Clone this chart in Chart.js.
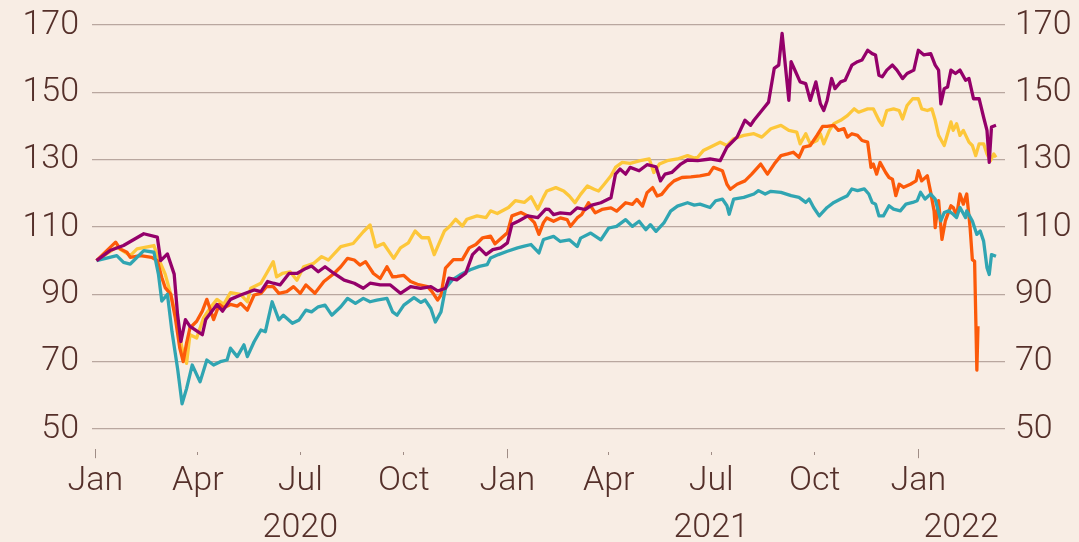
<!DOCTYPE html>
<html>
<head>
<meta charset="utf-8">
<script src="https://cdn.jsdelivr.net/npm/chart.js@4.4.1/dist/chart.umd.min.js"></script>
<style>
  html, body { margin: 0; padding: 0; background: #f8ede4; }
  #wrap { width: 1079px; height: 542px; position: relative; }
</style>
</head>
<body>
<div id="wrap"><canvas id="chart"></canvas></div>
<script>
// x values are days since 1 Jan 2020
const quarterDays = [0, 91, 182, 274, 366, 456, 547, 639, 731];
const quarterLabels = ['Jan', 'Apr', 'Jul', 'Oct', 'Jan', 'Apr', 'Jul', 'Oct', 'Jan'];
const yearDays = [182, 547, 769];
const yearLabels = ['2020', '2021', '2022'];
const gridValues = [50, 60, 70, 80, 90, 100, 110, 120, 130, 140, 150, 160, 170];
const yTickLabels = [50, 70, 90, 110, 130, 150, 170];

const yellowDays = [1,19,31,37,52,55,62,67,73,77,81,84,90,96,102,108,114,120,129,135,138,147,152,158,161,166,173,179,185,194,201,207,218,229,238,244,249,256,265,271,278,284,290,296,301,310,315,320,326,330,339,347,351,357,367,373,381,387,393,398,401,409,416,421,426,431,437,443,447,452,458,462,468,475,484,492,496,501,508,517,526,532,535,540,546,555,561,567,576,585,592,600,609,616,623,626,631,635,641,644,647,652,656,662,668,674,678,686,691,696,699,703,709,714,717,721,726,731,734,739,743,746,749,754,760,762,765,768,771,776,779,782,785,789,792,795,798,800];
const yellowVals = [100,104,101.5,103.5,104.5,101.5,96,90,81,74,69.5,78,77,83,86,88.5,87,90.5,90,87.8,91.8,93.3,96.2,99.7,95.2,96.2,96.7,94.2,98.2,99.2,101.2,100.2,104.2,105.1,108.6,110.6,104.1,105.1,100.7,103.8,105.3,108.8,106.8,106.8,101.8,108.8,110.3,112.3,110.3,112.3,113.3,112.8,114.8,114,115.8,117.8,117.3,119,115.3,118.8,120.7,121.7,120.7,119.2,117.2,119.7,122.2,121.2,120.7,122.7,125.2,127.7,129.2,128.9,129.7,130.2,126.2,128.7,129.7,130.2,131.2,130.5,130.7,132.7,133.7,135.2,134.2,136.2,137.2,137.7,136.7,139.2,140.2,138.7,138.2,134.7,137.7,134.7,135.7,137.7,134.7,138.7,140.7,141.7,143.1,145.1,144.1,145.1,145.1,141.7,140.2,144.6,145.1,144.6,142.1,146.1,148.1,148.1,145.1,144.6,145.1,141.7,137.2,134.2,141.2,138.7,140.7,137.2,138.7,135.2,134.2,131.2,134.7,134.7,131.7,129.7,131.7,130.7];

const orangeDays = [1,18,22,28,31,40,50,55,59,62,67,71,75,78,81,84,90,95,99,105,110,114,120,126,129,135,141,147,152,158,163,170,176,182,187,195,203,212,218,224,230,235,240,247,253,259,264,268,274,280,286,295,299,304,307,311,318,326,332,338,344,351,355,361,366,370,378,384,390,394,398,401,407,413,419,422,428,432,438,444,450,458,463,471,477,481,486,490,495,499,503,509,514,521,529,537,545,549,557,561,564,570,577,583,591,597,603,609,615,620,625,629,635,641,646,650,656,660,665,668,672,677,681,686,689,691,694,697,702,705,708,711,714,718,724,729,731,734,739,742,745,746,749,752,755,760,762,765,768,771,774,777,779,781,783,784];
const orangeVals = [100,105.5,103.5,102.5,101,101.5,101,100,95,92,90,83,74,70,75.5,80,82,85,88.5,82.5,87,86,87,86.5,87.3,85.3,89.8,90.3,92.3,92.3,90.3,90.8,92.3,90.3,92.8,90.3,93.8,96.2,98.2,100.7,100.2,98.7,99.7,96.2,94.7,98.2,95.2,95.3,95.6,93.8,93,92.3,90.8,88.3,89.8,97.8,100.3,100.3,103.8,104.8,106.8,107.3,105,106.8,108.3,113.3,114.3,113.3,111.3,107.8,111.3,112.7,111.7,112.7,112.2,110.2,112.7,113.7,117.2,114.2,115.2,115.7,114.7,117.2,116.7,118.2,116.2,120.2,121.7,119.2,119.7,122.2,123.7,124.7,124.9,125.2,125.7,127.7,126.7,122.7,121.2,122.7,123.7,125.7,128.7,125.7,128.7,131.2,131.7,132.2,130.7,133.7,134.2,137.2,139.9,139.9,140.2,138.7,139.2,136.7,137.7,137.2,135.7,135.2,127.7,128.7,125.7,129.2,126.2,124.7,124.2,119.3,122.7,121.8,122.7,123.7,126.7,123.7,125.2,120.3,114.8,109.8,117.8,106.3,111.8,116.3,115.8,113.3,119.8,116.8,119.8,109.8,100.3,99.8,67.5,80.5];

const purpleDays = [1,13,25,43,55,58,64,70,73,76,80,84,95,98,108,113,120,129,141,147,153,158,164,172,179,187,192,198,204,212,221,230,238,244,253,262,271,280,289,298,304,311,314,321,329,335,341,347,353,360,366,370,376,384,393,400,403,407,413,422,428,435,441,449,458,462,466,471,475,483,490,498,502,506,512,520,526,535,546,555,561,570,577,582,585,592,598,603,607,610,613,616,618,622,626,631,635,640,644,647,650,654,657,662,666,672,677,681,686,690,693,696,699,703,708,712,717,721,727,731,736,742,746,749,751,754,757,760,764,768,773,776,780,785,789,792,794,796,800];
const purpleVals = [100,103,104.5,108,107,100,102,96,84,76,82.5,80.5,78,82.5,87,85,88.5,89.8,91.3,90.8,93.8,93.3,92.8,96.2,96.2,97.7,98.4,96.7,98.2,96.2,94.2,93.3,91.8,93.3,92.8,92.8,90.3,92.3,91.8,92.3,91,91.8,94.8,94.3,96.3,101.8,103.8,101.8,103.3,103.8,105.3,110.8,111.8,113.3,112.8,115.3,115.2,113.7,114.2,113.9,115.7,115.2,116.5,117.2,118.7,125.7,127.2,125.7,127.7,126.7,128.5,127.9,123.7,125.7,126.2,128.7,129.9,129.7,130.2,129.7,133.7,136.7,141.7,140.2,141.7,144.6,147.1,157.1,158.1,167.5,157.6,147.6,159.1,156.1,153.1,152.6,147.6,153.1,146.6,144.6,147.6,154.1,151.1,153.1,153.6,158.1,159.1,159.6,162.5,161.5,161.1,155.1,154.6,156.6,158.1,156.6,154.1,155.6,156.6,162.5,161.1,161.5,158.1,156.6,146.6,151.1,151.6,156.6,155.6,156.6,153.6,154.1,148.1,148.1,142.6,138.7,129.2,139.7,140.2];

const tealDays = [1,19,25,31,43,52,56,59,64,68,73,77,81,86,93,99,105,111,117,120,126,132,135,141,147,151,157,163,167,175,181,187,192,198,204,210,218,224,231,238,244,250,259,264,268,274,283,289,293,298,302,307,311,317,324,333,341,348,351,358,366,375,381,387,394,398,407,413,421,428,431,440,449,456,463,471,477,483,489,493,498,505,511,517,526,532,537,546,551,557,561,563,567,576,585,589,595,600,609,618,625,631,634,638,643,650,656,662,668,672,677,683,687,690,693,696,700,705,709,715,720,726,730,733,737,742,746,751,754,758,762,765,768,773,774,779,783,786,789,792,794,796,800];
const tealVals = [100,101.5,99.5,99,103,102.5,96,88,90,79,68,57.5,62,69,64,70.5,69,70,70.5,74,71.5,75,71.5,75.9,79.4,78.9,87.8,82.4,83.8,81.4,82.4,85.3,84.8,86.3,86.8,83.8,86.3,88.8,87.3,88.8,87.8,88.3,88.8,84.8,83.8,86.8,89,87.6,88.3,85.8,81.8,84.8,91.8,94.3,95.8,97.3,98.3,98.8,100.8,101.8,102.8,103.8,104.3,104.8,102.3,106.3,107.2,105.7,106.2,104.2,106.7,108.2,106.2,109.7,110.2,112.2,110.2,111.7,109.2,110.7,108.7,111.2,114.7,116.2,117.2,116.5,116.8,115.8,117.8,118.3,116.3,113.8,118.3,118.8,119.8,120.8,119.8,120.6,120.3,119.3,118.8,117.3,118.3,115.8,113.3,115.8,117.3,118.3,119.3,121.3,120.8,121.3,119.8,117.3,116.8,113.3,113.3,116.3,115.3,114.8,116.8,117.3,117.8,120.3,118.3,119.8,118.3,111.8,114.3,114.8,113.8,112.8,115.8,112.8,114.8,111.8,107.8,108.8,105.8,97.9,95.9,101.8,101.3];

const textColor = '#55302a';
const gridColor = '#b9a79f';
const font = { family: 'Roboto', size: 34, weight: 300 };

const toPoints = (days, vals) => days.map((d, i) => ({ x: d, y: vals[i] }));
const makeLine = (label, days, vals, color) => ({
  label: label,
  data: toPoints(days, vals),
  borderColor: color,
  borderWidth: 3.3,
  pointRadius: 0,
  tension: 0,
  borderJoinStyle: 'round',
  fill: false
});

// first dataset is drawn on top
const datasets = [
  makeLine('Purple', purpleDays, purpleVals, '#94006a'),
  makeLine('Teal', tealDays, tealVals, '#30a5b2'),
  makeLine('Orange', orangeDays, orangeVals, '#fc5a0a'),
  makeLine('Yellow', yellowDays, yellowVals, '#fdc73a')
];

function yearStarts(tick) {
  return tick && [0, 366, 731].includes(tick.value);
}

// fixed axis widths, and no extra label padding above/below the plot
const fitY = (width) => (axis) => {
  axis.width = width;
  axis.paddingTop = 0;
  axis.paddingBottom = 0;
};

new Chart(document.getElementById('chart'), {
  type: 'line',
  data: { datasets: datasets },
  options: {
    responsive: true,
    maintainAspectRatio: false,
    animation: false,
    devicePixelRatio: 1,
    layout: { padding: { top: 25, left: 0, right: 0, bottom: 0 } },
    plugins: {
      legend: { display: false },
      tooltip: { enabled: false }
    },
    scales: {
      x: {
        type: 'linear',
        min: -3,
        max: 808,
        afterBuildTicks: (axis) => { axis.ticks = quarterDays.map(v => ({ value: v })); },
        ticks: {
          callback: (v) => quarterLabels[quarterDays.indexOf(v)],
          autoSkip: false,
          maxRotation: 0,
          padding: 3,
          color: textColor,
          font: font
        },
        grid: {
          drawOnChartArea: false,
          tickLength: 9,
          tickWidth: 1,
          tickColor: '#a08d86',
          tickBorderDash: (ctx) => (yearStarts(ctx.tick) ? [] : [0, 3, 3, 20])
        },
        border: { display: false }
      },
      xYear: {
        type: 'linear',
        position: 'bottom',
        weight: 1,
        min: -3,
        max: 808,
        afterBuildTicks: (axis) => { axis.ticks = yearDays.map(v => ({ value: v })); },
        afterFit: (axis) => { axis.height = 37; },
        ticks: {
          callback: (v) => yearLabels[yearDays.indexOf(v)],
          autoSkip: false,
          maxRotation: 0,
          padding: 3,
          color: textColor,
          font: font
        },
        grid: { display: false, drawTicks: false },
        border: { display: false }
      },
      y: {
        position: 'left',
        min: 44,
        max: 170,
        afterBuildTicks: (axis) => { axis.ticks = gridValues.map(v => ({ value: v })); },
        afterFit: fitY(92),
        ticks: {
          callback: (v) => (yTickLabels.includes(v) ? String(v) : ''),
          padding: 13,
          color: textColor,
          font: font
        },
        grid: { color: gridColor, lineWidth: 1.2, drawTicks: false },
        border: { display: false }
      },
      y2: {
        position: 'right',
        min: 44,
        max: 170,
        afterBuildTicks: (axis) => { axis.ticks = gridValues.map(v => ({ value: v })); },
        afterFit: fitY(74),
        ticks: {
          callback: (v) => (yTickLabels.includes(v) ? String(v) : ''),
          padding: 10,
          color: textColor,
          font: font
        },
        grid: { drawOnChartArea: false, drawTicks: false },
        border: { display: false }
      }
    }
  }
});
</script>
</body>
</html>
